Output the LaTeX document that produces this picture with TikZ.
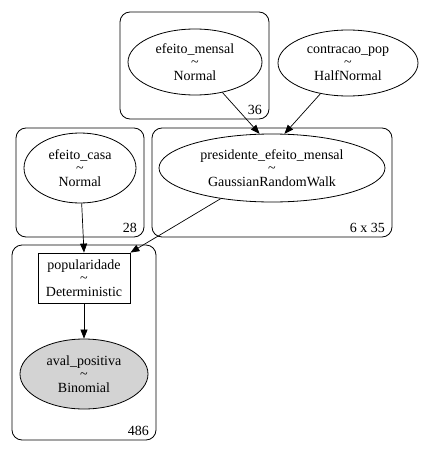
\documentclass[tikz,border=0pt]{standalone}
\usepackage{fontspec}
\setmainfont{Liberation Serif}
\usetikzlibrary{shapes.geometric,arrows.meta}
\begin{document}
\begin{tikzpicture}[x=1pt,y=-1pt,
  every node/.style={font=\fontsize{14}{13.5}\selectfont, align=center},
  rv/.style={draw, ellipse, inner sep=0pt, line width=0.8pt},
  det/.style={draw, rectangle, inner sep=0pt, line width=0.8pt},
  plate/.style={draw, rounded corners=10pt, line width=0.8pt},
  platelabel/.style={anchor=base east, inner sep=0pt},
  edge/.style={-{Triangle[length=9pt,width=7pt]}, line width=0.7pt}
]
\useasboundingbox (0,0) rectangle (423,452);

% plates
\draw[plate] (120,12) rectangle (269,119);
\draw[plate] (16,128) rectangle (144,237);
\draw[plate] (152,128) rectangle (392,237);
\draw[plate] (12,245) rectangle (156,440);
\node[platelabel] (l36) at (262,114) {36};
\node[platelabel] (l28) at (137,232) {28};
\node[platelabel] (l635) at (385,232) {6 x 35};
\node[platelabel] (l486) at (149,435) {486};

% variables
\node[rv, minimum width=134pt, minimum height=66pt] (em) at (195,62)
  {efeito\_mensal\\\textasciitilde\\Normal};
\node[rv, minimum width=140pt, minimum height=66pt] (cp) at (348,63)
  {contracao\_pop\\\textasciitilde\\HalfNormal};
\node[rv, minimum width=112pt, minimum height=70pt] (ec) at (80,168)
  {efeito\_casa\\\textasciitilde\\Normal};
\node[rv, minimum width=226pt, minimum height=68pt] (pem) at (272,168)
  {presidente\_efeito\_mensal\\\textasciitilde\\GaussianRandomWalk};
\node[det, minimum width=92pt, minimum height=50pt] (pop) at (84,278)
  {popularidade\\\textasciitilde\\Deterministic};
\node[rv, fill={rgb,255:red,211;green,211;blue,211}, minimum width=128pt, minimum height=70pt] (av) at (84,374)
  {aval\_positiva\\\textasciitilde\\Binomial};

% dependencies
\draw[edge] (em) -- (pem.{110});
\draw[edge] (cp) -- (pem.{70});
\draw[edge] (ec) -- (pop.north);
\draw[edge] (pem) -- (pop.north east);
\draw[edge] (pop) -- (av);
\end{tikzpicture}
\end{document}
